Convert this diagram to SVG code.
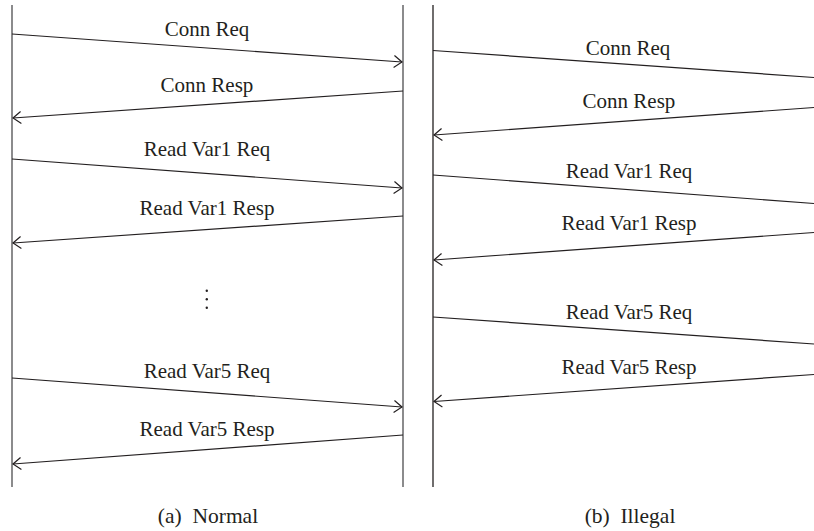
<svg xmlns="http://www.w3.org/2000/svg" width="814" height="531" viewBox="0 0 814 531">
  <style>
    .life { stroke: #5a5a5c; stroke-width: 1.4; fill: none; }
    .life-dark { stroke: #231f20; stroke-width: 1.3; fill: none; }
    .msg { stroke: #231f20; stroke-width: 1.2; fill: none; }
    .lbl { font-family: "Liberation Serif", "Times New Roman", serif; font-size: 21px; fill: #231f20; text-anchor: middle; }
    .cap { font-family: "Liberation Serif", "Times New Roman", serif; font-size: 21.5px; fill: #231f20; text-anchor: middle; white-space: pre; }
  </style>
  <defs>
    <marker id="head" markerUnits="userSpaceOnUse" markerWidth="12" markerHeight="14" refX="0" refY="0" viewBox="-10 -7 12 14" orient="auto" overflow="visible">
      <path d="M-8,-6 L0,0 L-8,6" fill="none" stroke="#231f20" stroke-width="1.2"/>
    </marker>
  </defs>
  <rect width="814" height="531" fill="#ffffff"/>

  <!-- (a) Normal session -->
  <g id="normal-client"><line class="life" x1="12" y1="5" x2="12" y2="487"/></g>
  <g id="normal-server"><line class="life" x1="403" y1="5" x2="403" y2="487"/></g>

  <!-- (b) Illegal session -->
  <g id="illegal-client"><line class="life-dark" x1="433" y1="5" x2="433" y2="487"/></g>

  <g id="messages">
    <!-- normal -->
    <line class="msg" x1="12" y1="34" x2="402" y2="62" marker-end="url(#head)"/>
    <line class="msg" x1="403" y1="91" x2="13" y2="118" marker-end="url(#head)"/>
    <line class="msg" x1="12" y1="159" x2="402" y2="188" marker-end="url(#head)"/>
    <line class="msg" x1="403" y1="216" x2="13" y2="243" marker-end="url(#head)"/>
    <line class="msg" x1="12" y1="378" x2="402" y2="407" marker-end="url(#head)"/>
    <line class="msg" x1="403" y1="435" x2="13" y2="464" marker-end="url(#head)"/>
    <!-- illegal -->
    <line class="msg" x1="433" y1="50.5" x2="814" y2="77.5"/>
    <line class="msg" x1="814" y1="107.5" x2="434" y2="135" marker-end="url(#head)"/>
    <line class="msg" x1="433" y1="175" x2="814" y2="203.5"/>
    <line class="msg" x1="814" y1="232.5" x2="434" y2="260" marker-end="url(#head)"/>
    <line class="msg" x1="433" y1="317" x2="814" y2="344"/>
    <line class="msg" x1="814" y1="374.5" x2="434" y2="401.5" marker-end="url(#head)"/>
  </g>

  <g id="labels">
    <text class="lbl" x="207" y="35.5">Conn Req</text>
    <text class="lbl" x="207" y="92">Conn Resp</text>
    <text class="lbl" x="207" y="155.5">Read Var1 Req</text>
    <text class="lbl" x="207" y="214.5">Read Var1 Resp</text>
    <text class="lbl" x="207" y="377.5">Read Var5 Req</text>
    <text class="lbl" x="207" y="436">Read Var5 Resp</text>

    <text class="lbl" x="628" y="55">Conn Req</text>
    <text class="lbl" x="629" y="108">Conn Resp</text>
    <text class="lbl" x="629" y="177.5">Read Var1 Req</text>
    <text class="lbl" x="629" y="230">Read Var1 Resp</text>
    <text class="lbl" x="629" y="318.5">Read Var5 Req</text>
    <text class="lbl" x="629" y="373.5">Read Var5 Resp</text>
  </g>

  <!-- vertical ellipsis between Var1 and Var5 -->
  <g id="ellipsis" fill="#231f20">
    <circle cx="206.8" cy="290.8" r="1.2"/>
    <circle cx="206.8" cy="299.3" r="1.2"/>
    <circle cx="206.8" cy="307.7" r="1.2"/>
  </g>

  <text class="cap" x="208" y="523">(a)  Normal</text>
  <text class="cap" x="630" y="523">(b)  Illegal</text>
</svg>
